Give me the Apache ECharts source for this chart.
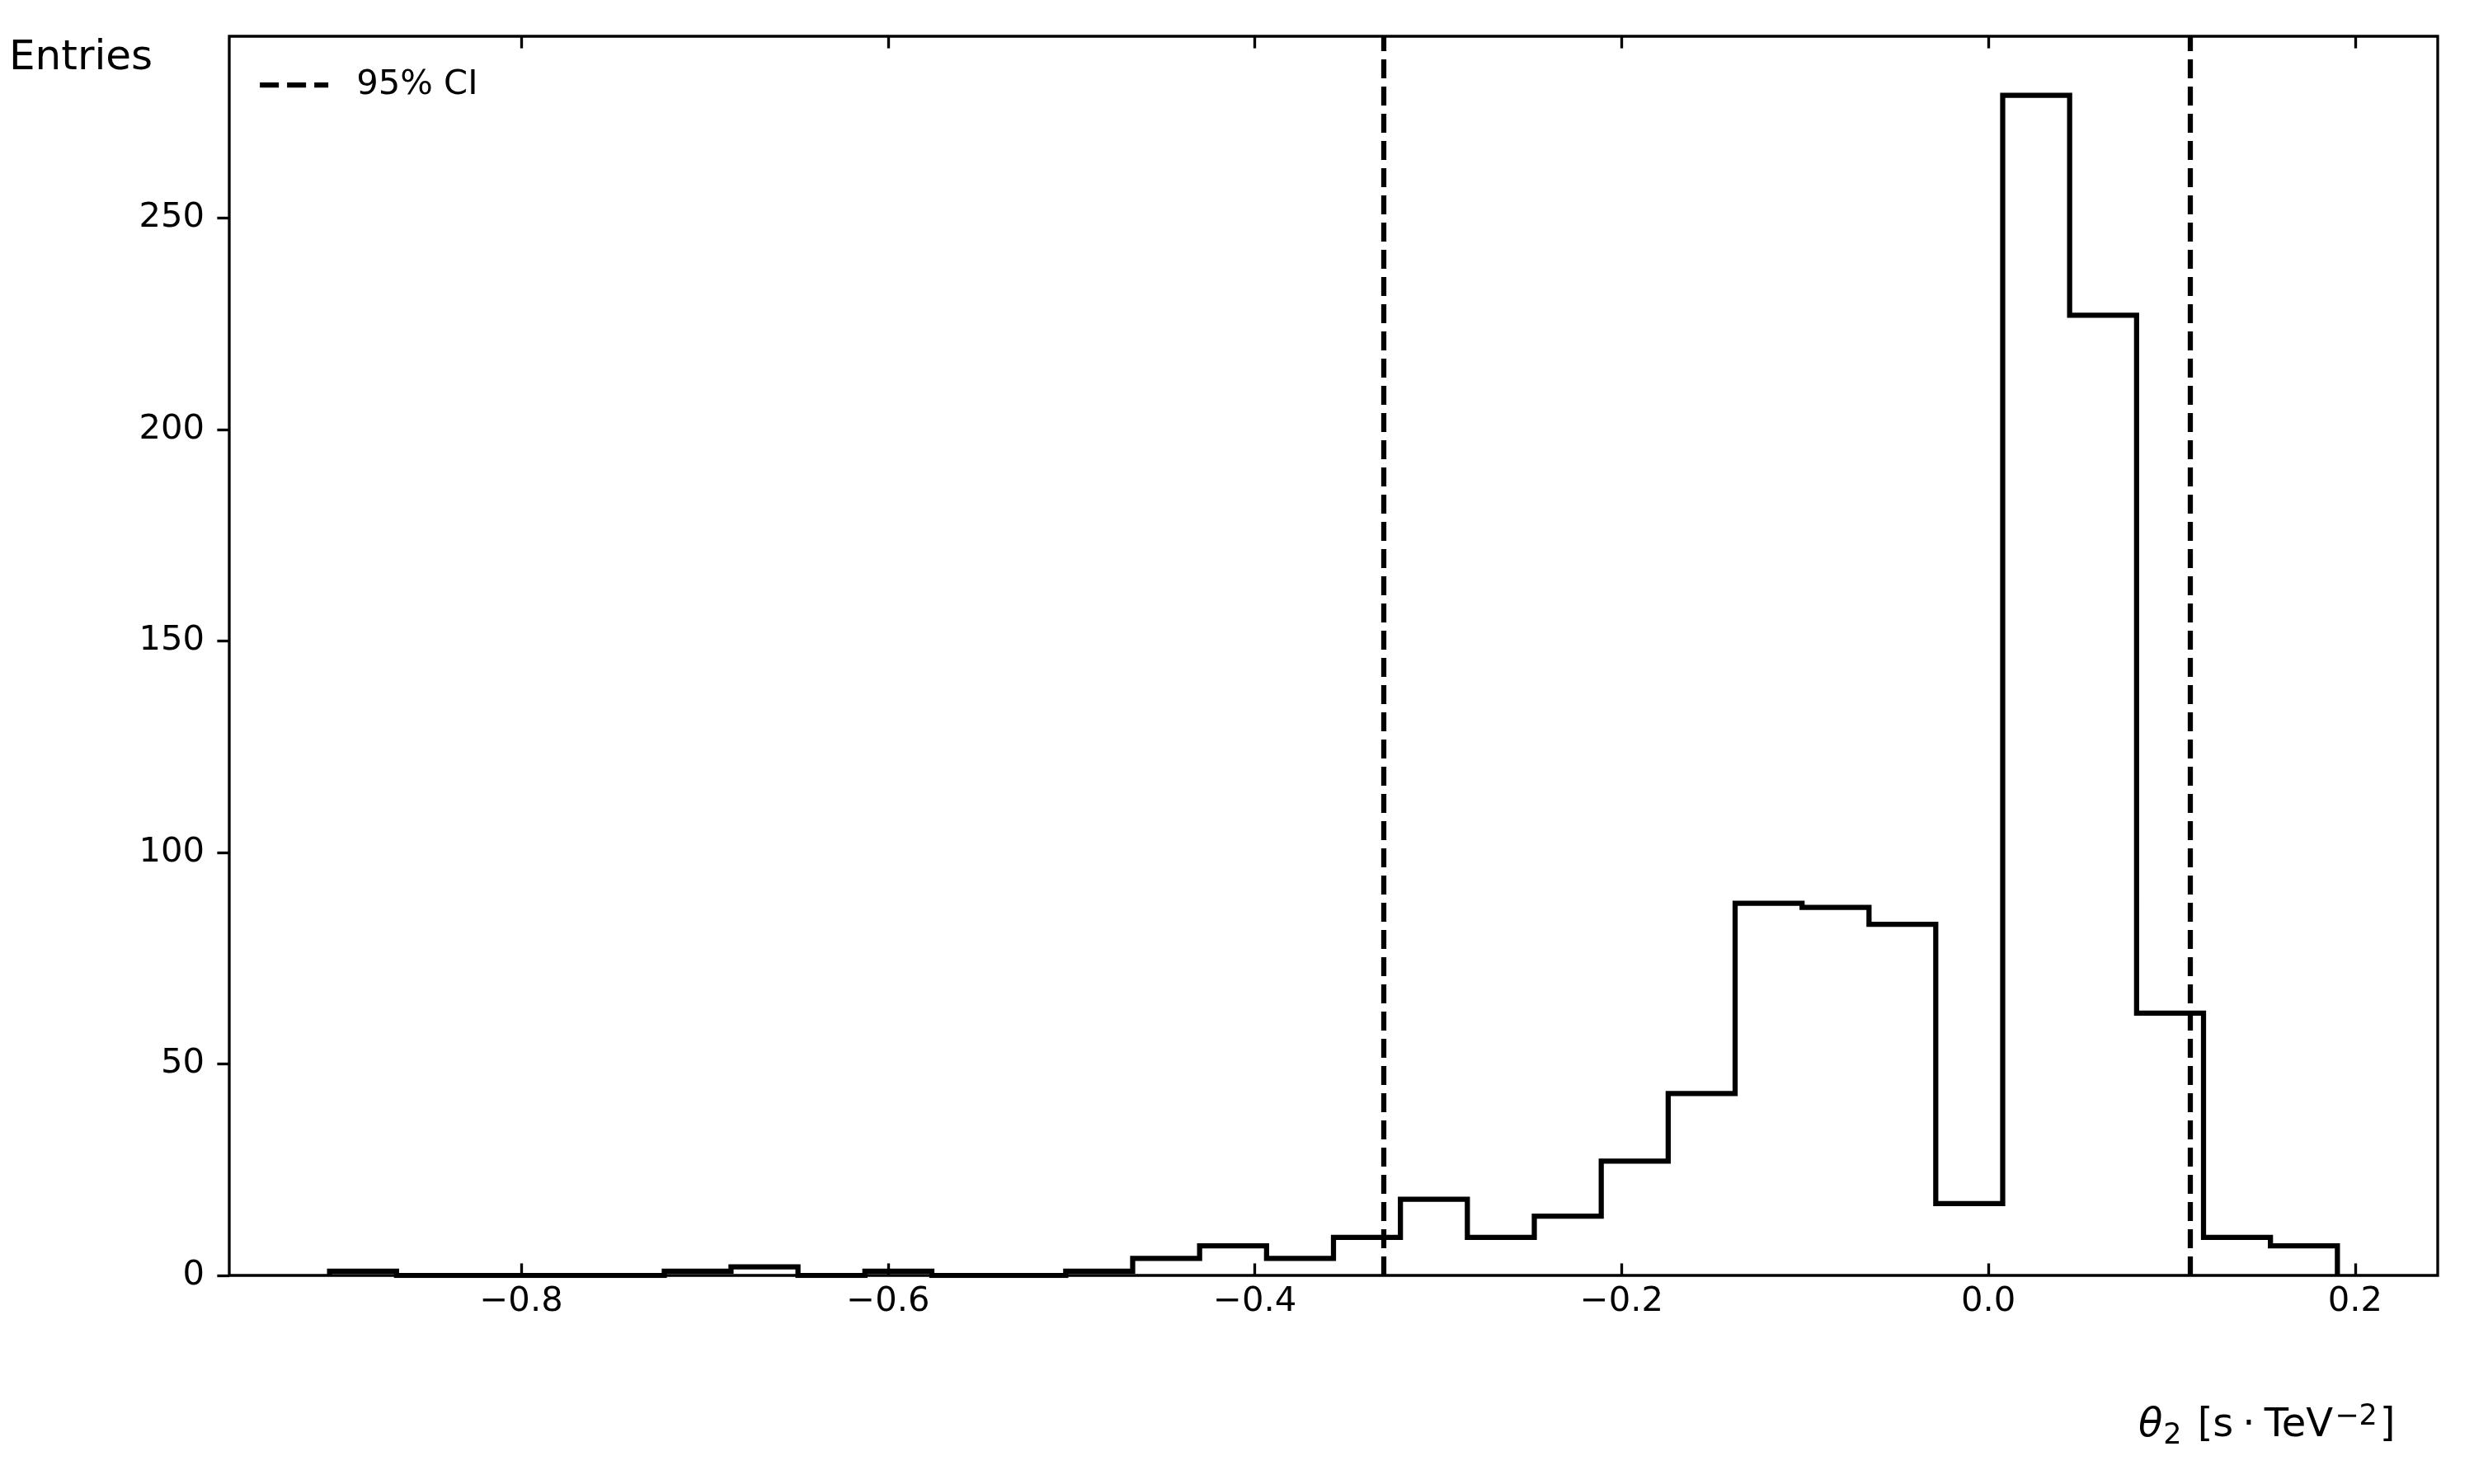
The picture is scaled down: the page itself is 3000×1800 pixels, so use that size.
<!DOCTYPE html>
<html>
<head>
<meta charset="utf-8">
<title>theta2 histogram</title>
<script src="https://cdn.jsdelivr.net/npm/echarts@6.0.0/dist/echarts.min.js"></script>
<style>
    html, body { margin: 0; padding: 0; background: #fff; }
    #chart { width: 3000px; height: 1800px; }
</style>
</head>
<body>
<div id="chart"></div>
<script>
// bin edges of the histogram (30 bins)
var binEdges = [-0.9045, -0.8680, -0.8315, -0.7950, -0.7585, -0.7220, -0.6856, -0.6491, -0.6126, -0.5761,
    -0.5396, -0.5031, -0.4666, -0.4301, -0.3936, -0.3571, -0.3206, -0.2841, -0.2476, -0.2111,
    -0.1746, -0.1381, -0.1016, -0.0651, -0.0287, 0.0078, 0.0443, 0.0808, 0.1173, 0.1538, 0.1903];
// entries per bin
var binCounts = [1, 0, 0, 0, 0, 1, 2, 0, 1, 0,
    0, 1, 4, 7, 4, 9, 18, 9, 14, 27,
    43, 88, 87, 83, 17, 279, 227, 62, 9, 7];
// 95% CI bounds
var ciBounds = [-0.331, 0.110];
// tick values
var xTicks = [-0.8, -0.6, -0.4, -0.2, 0.0, 0.2];
var yTicks = [0, 50, 100, 150, 200, 250];
// axis range
var xRange = [-0.9592, 0.2450];
var yRange = [0, 292.95];

var FONT = 'DejaVu Sans';
var LW = 6.25;   // 1.5pt at 300dpi
var SPINE = 3.33;

/*build the step outline of the histogram*/
function stepData() {
    var pts = [[binEdges[0], 0]];
    for (var i = 0; i < binCounts.length; i++) {
        pts.push([binEdges[i], binCounts[i]]);
    }
    pts.push([binEdges[binEdges.length - 1], binCounts[binCounts.length - 1]]);
    pts.push([binEdges[binEdges.length - 1], 0]);
    return pts;
}

function fmtX(v) {
    var s = Math.abs(v).toFixed(1);
    return (v < -1e-9 ? '\u2212' : '') + s;
}

var myChart = echarts.init(document.getElementById('chart'), null, { renderer: 'canvas' });

var option = {
    backgroundColor: '#ffffff',
    animation: false,
    title: [{
        text: 'Entries',
        left: 11,
        top: 46,
        padding: 0,
        textStyle: { fontFamily: FONT, fontSize: 50, fontWeight: 'normal', color: '#000', lineHeight: 50 }
    }, {
        text: '{th|θ}{sub|2}{n|[s}{dot|·}{n|TeV}{sup|\u22122}{end|]}',
        left: 2593,
        top: 1701,
        padding: 0,
        textStyle: {
            fontFamily: FONT, fontSize: 48, fontWeight: 'normal', color: '#000',
            rich: {
                th: { fontFamily: FONT, fontStyle: 'italic', fontSize: 48, lineHeight: 58, color: '#000' },
                sub: { fontFamily: FONT, fontSize: 35, lineHeight: 34, verticalAlign: 'bottom', padding: [0, 19, 0, 1], color: '#000' },
                n: { fontFamily: FONT, fontSize: 48, lineHeight: 58, color: '#000' },
                dot: { fontFamily: FONT, fontSize: 48, lineHeight: 58, padding: [0, 11, 0, 11], color: '#000' },
                sup: { fontFamily: FONT, fontSize: 35, lineHeight: 34, verticalAlign: 'top', padding: [0, 3, 0, 2], color: '#000' },
                end: { fontFamily: FONT, fontSize: 48, lineHeight: 58, color: '#000' }
            }
        }
    }],
    legend: {
        data: ['95% CI'],
        left: 312,
        top: 82,
        padding: 0,
        itemWidth: 83,
        itemHeight: 42,
        itemStyle: { opacity: 0 },
        lineStyle: { color: '#000', width: LW, type: [23, 10] },
        textStyle: { fontFamily: FONT, fontSize: 41.7, color: '#000', padding: [0, 0, 0, 29] }
    },
    grid: {
        left: 278,
        right: 44,
        top: 44,
        bottom: 253,
        show: true,
        borderColor: '#000',
        borderWidth: SPINE,
        backgroundColor: 'transparent'
    },
    xAxis: [{
        type: 'value',
        position: 'bottom',
        min: xRange[0],
        max: xRange[1],
        axisLine: { show: false, onZero: false },
        splitLine: { show: false },
        axisTick: { show: true, inside: true, length: 14.6, customValues: xTicks, lineStyle: { color: '#000', width: SPINE } },
        axisLabel: {
            customValues: xTicks,
            margin: 11,
            fontFamily: FONT, fontSize: 41.7, color: '#000',
            formatter: fmtX
        }
    }, {
        type: 'value',
        position: 'top',
        min: xRange[0],
        max: xRange[1],
        axisLine: { show: false, onZero: false },
        splitLine: { show: false },
        axisTick: { show: true, inside: true, length: 14.6, customValues: xTicks, lineStyle: { color: '#000', width: SPINE } },
        axisLabel: { show: false }
    }],
    yAxis: {
        type: 'value',
        position: 'left',
        min: yRange[0],
        max: yRange[1],
        axisLine: { show: false, onZero: false },
        splitLine: { show: false },
        axisTick: { show: true, inside: false, length: 14.6, customValues: yTicks, lineStyle: { color: '#000', width: SPINE } },
        axisLabel: {
            customValues: yTicks,
            margin: 30,
            fontFamily: FONT, fontSize: 41.7, color: '#000'
        }
    },
    series: [{
        name: 'hist',
        type: 'line',
        step: 'end',
        data: stepData(),
        symbol: 'none',
        silent: true,
        z: 3,
        lineStyle: { color: '#000', width: LW, join: 'miter', cap: 'butt' }
    }, {
        name: '95% CI',
        type: 'line',
        data: [],
        symbol: 'none',
        z: 2,
        itemStyle: { color: '#000' },
        lineStyle: { color: '#000', width: LW, type: [23, 10] },
        markLine: {
            silent: true,
            symbol: ['none', 'none'],
            label: { show: false },
            lineStyle: { color: '#000', width: LW, type: [23, 10] },
            data: [{ xAxis: ciBounds[0] }, { xAxis: ciBounds[1] }]
        }
    }]
};
myChart.setOption(option);
</script>
</body>
</html>
